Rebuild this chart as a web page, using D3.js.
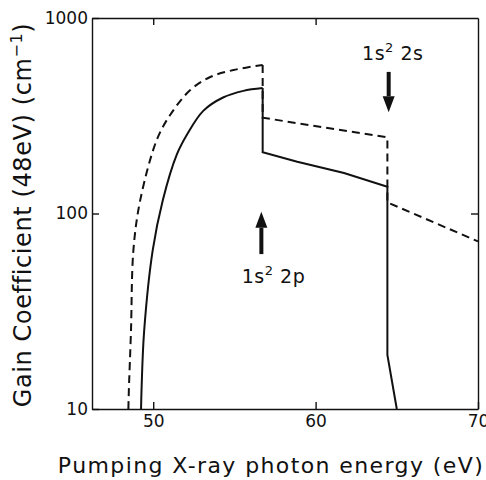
<!DOCTYPE html>
<html>
<head>
<meta charset="utf-8">
<script src="https://cdn.jsdelivr.net/npm/d3@7"></script>
<style>
  body { margin: 0; background: #fff; }
  text { font-family: "DejaVu Sans", sans-serif; fill: #111; }
</style>
</head>
<body>
<svg id="chart" width="486" height="480"></svg>
<script>
// solid curve (rising part up to the peak, then the steps)
var solidX = [49.25, 49.28, 49.44, 49.97, 50.59, 51.45, 52.1, 53.08, 54.3, 55.55, 56.74, 56.74, 58.87, 61.75, 64.42, 64.42, 65.0];
var solidY = [10, 12.5, 25, 65, 117, 200, 255, 335, 392, 424, 438, 206, 184, 161, 137, 18.9, 10];
var solidPeak = 10;
// dashed curve
var dashX = [48.47, 48.5, 48.63, 48.78, 49.2, 50.22, 51.04, 52.28, 53.51, 54.95, 56.74, 56.74, 64.42, 64.42, 70];
var dashY = [10, 12.5, 25, 65, 117, 238, 319, 428, 499, 542, 575, 309, 245, 114, 72];
var dashPeak = 10;

var xTicks = [50, 60, 70];
var yTicks = [10, 100, 1000];

// arrows: energy, tail value, tip value
var arrows = [
  {x: 64.5, from: 530, to: 330},
  {x: 56.66, from: 62, to: 102}
];
var labels = [
  {x: 64.75, y: 610, base: "1s", sup: "2", rest: " 2s", anchor: "middle"},
  {x: 55.45, y: 44, base: "1s", sup: "2", rest: " 2p", anchor: "start"}
];

var svg = d3.select("#chart"),
    margin = {top: 18, right: 8, bottom: 71, left: 92},
    width = 486 - margin.left - margin.right,
    height = 480 - margin.top - margin.bottom;

var x = d3.scaleLinear().domain([46.23, 70]).range([0, width]);
var y = d3.scaleLog().domain([10, 1000]).range([height, 0]);

var g = svg.append("g")
  .attr("transform", "translate(" + margin.left + "," + margin.top + ")");

g.append("g")
  .attr("transform", "translate(0," + height + ")")
  .call(d3.axisBottom(x).tickValues(xTicks).tickSizeInner(-7).tickSizeOuter(0).tickPadding(6).tickFormat(d3.format("d")));
g.append("g")
  .call(d3.axisTop(x).tickValues([50, 60]).tickSizeInner(-7).tickSizeOuter(0).tickFormat(""));
g.append("g")
  .call(d3.axisLeft(y).tickValues(yTicks).tickSizeInner(-7).tickSizeOuter(0).tickPadding(4).tickFormat(d3.format("d")));
g.append("g")
  .attr("transform", "translate(" + width + ",0)")
  .call(d3.axisRight(y).tickValues([100]).tickSizeInner(-7).tickSizeOuter(0).tickFormat(""));

g.selectAll(".domain, .tick line").attr("stroke", "#111").attr("stroke-width", 1.4);
g.selectAll(".tick text").style("font-size", "17px").attr("fill", "#111");

var rise = d3.line()
  .curve(d3.curveCatmullRom.alpha(0.5))
  .x(function(d) { return x(d[0]); })
  .y(function(d) { return y(d[1]); });
var step = d3.line()
  .x(function(d) { return x(d[0]); })
  .y(function(d) { return y(d[1]); });

function drawCurve(xs, ys, peak, dash) {
  var pts = xs.map(function(d, i) { return [d, ys[i]]; });
  [rise(pts.slice(0, peak + 1)), step(pts.slice(peak))].forEach(function(dpath) {
    g.append("path")
      .attr("d", dpath)
      .attr("fill", "none")
      .attr("stroke", "#111")
      .attr("stroke-width", 2)
      .attr("stroke-dasharray", dash ? "8,5" : null);
  });
}
drawCurve(solidX, solidY, solidPeak, false);
drawCurve(dashX, dashY, dashPeak, true);

// arrows
arrows.forEach(function(a) {
  var ax = x(a.x), y0 = y(a.from), y1 = y(a.to);
  var dir = y1 > y0 ? 1 : -1;
  var headLen = 16;
  g.append("line")
    .attr("x1", ax).attr("x2", ax)
    .attr("y1", y0).attr("y2", y1 - dir * headLen)
    .attr("stroke", "#111").attr("stroke-width", 4);
  g.append("path")
    .attr("d", "M" + (ax - 6) + "," + (y1 - dir * headLen) + "L" + (ax + 6) + "," + (y1 - dir * headLen) + "L" + ax + "," + y1 + "Z")
    .attr("fill", "#111");
});

labels.forEach(function(l) {
  var t = g.append("text")
    .attr("x", x(l.x)).attr("y", y(l.y))
    .attr("text-anchor", l.anchor)
    .style("font-size", "19px")
    .style("letter-spacing", "0.5px");
  t.append("tspan").text(l.base);
  t.append("tspan").attr("dy", -8).style("font-size", "13px").text(l.sup);
  t.append("tspan").attr("dy", 8).text(l.rest);
});

// axis titles
svg.append("text")
  .attr("x", 271).attr("y", 473)
  .attr("text-anchor", "middle")
  .style("font-size", "22px")
  .style("letter-spacing", "1.4px")
  .text("Pumping X-ray photon energy (eV)");

var yl = svg.append("text")
  .attr("transform", "translate(31,215) rotate(-90)")
  .attr("text-anchor", "middle")
  .style("font-size", "24px")
  .style("letter-spacing", "0.6px");
yl.append("tspan").text("Gain Coefficient (48eV) (cm");
yl.append("tspan").attr("dy", -9).style("font-size", "16px").text("−1");
yl.append("tspan").attr("dy", 9).text(")");
</script>
</body>
</html>
